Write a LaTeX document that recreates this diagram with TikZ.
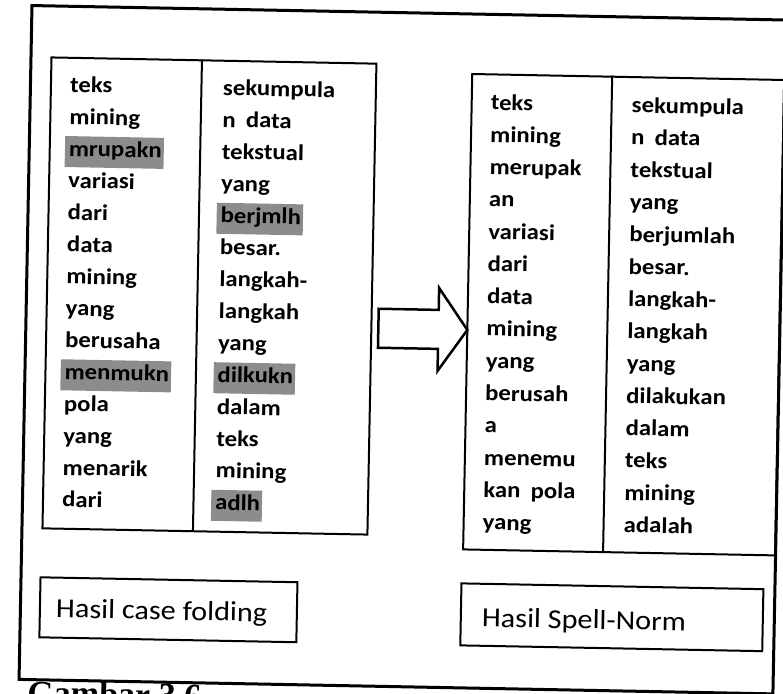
\documentclass[tikz,border=0pt]{standalone}
\usepackage{fontspec}
\newfontfamily\tabfont[FakeStretch=1.1]{Carlito}
\newfontfamily\capfont{Liberation Serif}
\definecolor{hlgray}{RGB}{140,140,140}
\newcommand\hlw[1]{\kern-4pt{\setlength{\fboxsep}{0pt}\colorbox{hlgray}{\rule[-11pt]{0pt}{31pt}\kern4pt#1\kern2pt}}}
\begin{document}
\begin{tikzpicture}[x=1pt,y=-1pt,
  word/.style={inner sep=0pt, anchor=base west, font=\tabfont\bfseries\fontsize{22.5}{27}\selectfont},
  capword/.style={inner sep=0pt, anchor=base west, font=\tabfont\fontsize{27.5}{33}\selectfont},
  box/.style={draw, line width=2pt, inner sep=0pt, anchor=north west},
  frame/.style={draw, line width=3pt, inner sep=0pt, anchor=north west},
  blockarrow/.style={draw, line width=2.5pt, line join=miter, fill=white}]
\useasboundingbox (0,0) rectangle (783,693);
\begin{scope}[rotate around={-1.1:(391.5,346.5)}, transform shape]
  % outer frame
  \node[frame, minimum width=754pt, minimum height=674pt] (outer) at (24,11) {};
  % left table
  \node[box, minimum width=325pt, minimum height=471pt] (lt) at (45,63) {};
  \draw[line width=2pt] (lt.north west) ++(151.5,0) coordinate (ltd1) -- ++(0,471) coordinate (ltd2);
  % right table
  \node[box, minimum width=312pt, minimum height=475.5pt] (rt) at (466,71.5) {};
  \draw[line width=2pt] (rt.north west) ++(141,0) coordinate (rtd1) -- ++(0,475.5) coordinate (rtd2);
  % left table words
  \foreach \w [count=\i] in {teks,mining,\hlw{mrupakn},variasi,dari,data,mining,yang,berusaha,\hlw{menmukn},pola,yang,menarik,dari}
    \node[word] (la\i) at (65,{98.5+31.9*(\i-1)}) {\w};
  \foreach \w [count=\i] in {sekumpula,n\hspace{0.45em}data,tekstual,yang,\hlw{berjmlh},besar.,langkah-,langkah,yang,\hlw{dilkukn},dalam,teks,mining,\hlw{adlh}}
    \node[word] (lb\i) at (218,{98.5+31.9*(\i-1)}) {\w};
  % right table words
  \foreach \w [count=\i] in {teks,mining,merupak,an,variasi,dari,data,mining,yang,berusah,a,menemu,kan\hspace{0.45em}pola,yang}
    \node[word] (ra\i) at (486,{108+32.3*(\i-1)}) {\w};
  \foreach \w [count=\i] in {sekumpula,n\hspace{0.45em}data,tekstual,yang,berjumlah,besar.,langkah-,langkah,yang,dilakukan,dalam,teks,mining,adalah}
    \node[word] (rb\i) at (627,{108+32.3*(\i-1)}) {\w};
  % block arrow
  \draw[blockarrow] (378,309) -- (438,309) -- (438,287) -- (467,328.5) -- (438,370) -- (438,348) -- (378,348) -- cycle;
  % captions
  \node[box, minimum width=257pt, minimum height=60pt] (lc) at (44,583) {};
  \node[capword] (lct) at (61,624) {Hasil case folding};
  \node[box, minimum width=302pt, minimum height=62pt] (rc) at (465,581) {};
  \node[capword] (rct) at (487,625) {Hasil Spell-Norm};
  % figure caption (cut off at the lower edge, as in the reference)
  \node[inner sep=0pt, anchor=base west, font=\capfont\bfseries\fontsize{34}{40}\selectfont] (fig) at (34,711) {Gambar 3.6};
\end{scope}
\end{tikzpicture}
\end{document}
